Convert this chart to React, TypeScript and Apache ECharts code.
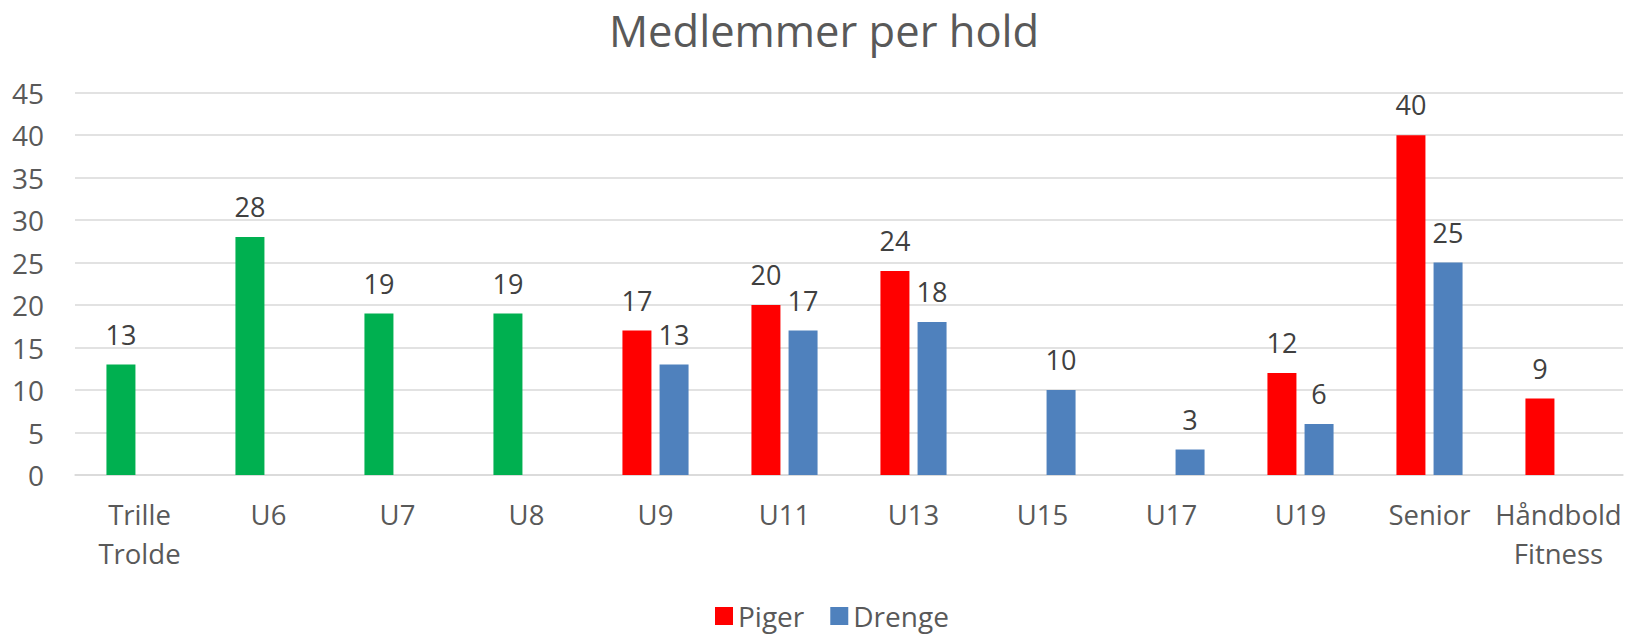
import React, { useEffect, useRef } from "react";
import * as echarts from "echarts";

const categories = ["Trille\nTrolde", "U6", "U7", "U8", "U9", "U11", "U13", "U15", "U17", "U19", "Senior", "Håndbold\nFitness"];
const piger: (number | null)[] = [13, 28, 19, 19, 17, 20, 24, null, null, 12, 40, 9];
const drenge: (number | null)[] = [null, null, null, null, 13, 17, 18, 10, 3, 6, 25, null];
const mixedTeams = ["Trille\nTrolde", "U6", "U7", "U8"];
const yTicks = { min: 0, max: 45, interval: 5 };

const FONT = "Open Sans";
const RED = "#FF0000";
const BLUE = "#4F81BD";
const GREEN = "#00B050";

export default function App() {
  const ref = useRef<HTMLDivElement>(null);
  useEffect(() => {
    if (!ref.current) return;
    const chart = echarts.init(ref.current, null, { renderer: "svg" });
    const label = {
      show: true,
      position: "top",
      distance: 17,
      color: "#404040",
      fontSize: 27,
      fontFamily: FONT,
    };
    chart.setOption({
      animation: false,
      textStyle: { fontFamily: FONT },
      title: {
        text: "Medlemmer per hold",
        left: 604,
        top: 3,
        textStyle: { fontFamily: FONT, fontSize: 43.5, fontWeight: "normal", color: "#595959" },
      },
      legend: {
        left: 710,
        top: 596,
        itemWidth: 18,
        itemHeight: 18,
        itemGap: 26,
        icon: "rect",
        textStyle: { fontFamily: FONT, fontSize: 28, lineHeight: 30, color: "#595959" },
        data: ["Piger", "Drenge"],
      },
      grid: { left: 75, right: 13, top: 92.7, bottom: 159, containLabel: false },
      xAxis: {
        type: "category",
        data: categories,
        axisLine: { show: true, lineStyle: { color: "#D9D9D9", width: 1.5 } },
        axisTick: { show: false },
        axisLabel: {
          color: "#595959",
          fontSize: 27.5,
          fontFamily: FONT,
          margin: 20,
          lineHeight: 39,
          interval: 0,
        },
      },
      yAxis: {
        type: "value",
        min: yTicks.min,
        max: yTicks.max,
        interval: yTicks.interval,
        axisLine: { show: false },
        axisTick: { show: false },
        splitLine: { lineStyle: { color: "#D9D9D9", width: 1.5 } },
        axisLabel: { color: "#595959", fontSize: 28, fontFamily: FONT, margin: 31 },
      },
      series: [
        {
          name: "Piger",
          type: "bar",
          barWidth: 29,
          barGap: "28%",
          itemStyle: { color: RED },
          label,
          data: piger.map((v, i) =>
            mixedTeams.includes(categories[i])
              ? { value: v, itemStyle: { color: GREEN } }
              : v
          ),
        },
        {
          name: "Drenge",
          type: "bar",
          barWidth: 29,
          barGap: "28%",
          itemStyle: { color: BLUE },
          label,
          data: drenge,
        },
      ],
    });
    return () => chart.dispose();
  }, []);
  return <div ref={ref} style={{ width: 1636, height: 634, position: "absolute", left: 0, top: 0 }} />;
}
